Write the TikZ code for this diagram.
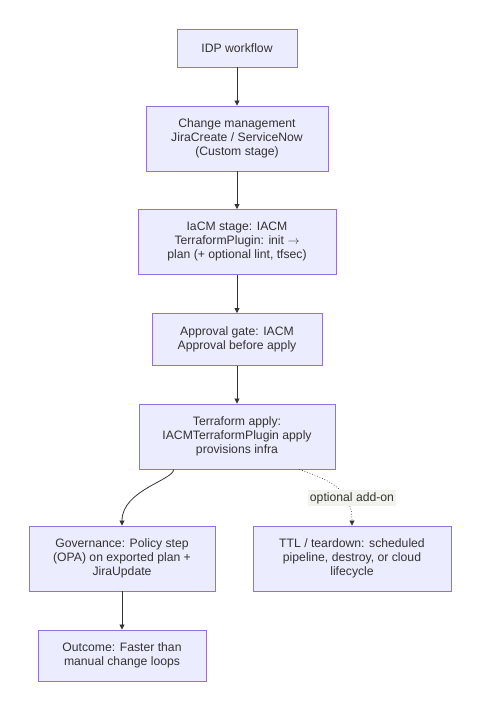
\documentclass[tikz,border=0pt]{standalone}
\usepackage{fontspec}
\setmainfont{Liberation Sans}
\usetikzlibrary{arrows.meta}
\definecolor{nodefill}{HTML}{ECECFF}
\definecolor{nodeline}{HTML}{9370DB}
\definecolor{edgeline}{HTML}{333333}
\definecolor{lblbg}{HTML}{F2F2EE}
\begin{document}
\begin{tikzpicture}[x=1pt,y=-1pt,
  box/.style={draw=nodeline,fill=nodefill,line width=0.9pt,rectangle,align=center,
    inner sep=0pt,font=\fontsize{12.2}{14}\selectfont,text=edgeline},
  flow/.style={draw=edgeline,line width=0.8pt,-{Triangle[length=5pt,width=5pt]}},
  optflow/.style={draw=edgeline,line width=0.7pt,dotted,-{Triangle[length=5pt,width=5pt]}},
  lbl/.style={fill=lblbg,inner sep=2pt,font=\fontsize{12.2}{14}\selectfont,text=edgeline}]
\useasboundingbox (0,0) rectangle (480,711);
\fill[white] (0,0) rectangle (480,711);
\node[box,minimum width=120pt,minimum height=38pt] (n1) at (237,48) {IDP workflow};
\node[box,minimum width=182pt,minimum height=65pt] (n2) at (237,138.5) {Change management\\JiraCreate / ServiceNow\\(Custom stage)};
\node[box,minimum width=198pt,minimum height=65pt] (n3) at (237,242) {IaCM stage: IACM\\TerraformPlugin: init \(\rightarrow\)\\plan (+ optional lint, tfsec)};
\node[box,minimum width=170pt,minimum height=52pt] (n4) at (237,339.5) {Approval gate: IACM\\Approval before apply};
\node[box,minimum width=196pt,minimum height=65pt] (n5) at (237,436.5) {Terraform apply:\\IACMTerraformPlugin apply\\provisions infra};
\node[box,minimum width=186pt,minimum height=65pt] (n6) at (122,558.5) {Governance: Policy step\\(OPA) on exported plan +\\JiraUpdate};
\node[box,minimum width=198pt,minimum height=65pt] (n7) at (352,558.5) {TTL / teardown: scheduled\\pipeline, destroy, or cloud\\lifecycle};
\node[box,minimum width=168pt,minimum height=51pt] (n8) at (122,655.5) {Outcome: Faster than\\manual change loops};
\draw[flow] (n1) -- (n2);
\draw[flow] (n2) -- (n3);
\draw[flow] (n3) -- (n4);
\draw[flow] (n4) -- (n5);
\draw[flow] (n5.south west) ++(35,0) coordinate (a1)
  (a1) .. controls (174,480) and (122,490) .. (n6.north -| 122,0);
\draw[optflow] (n5.south east) ++(-36,0) coordinate (b1)
  (b1) .. controls (330,480) and (352,490) .. (n7.north -| 352,0);
\draw[flow] (n6) -- (n8);
\node[lbl] (l1) at (352,498) {optional add-on};
\end{tikzpicture}
\end{document}
